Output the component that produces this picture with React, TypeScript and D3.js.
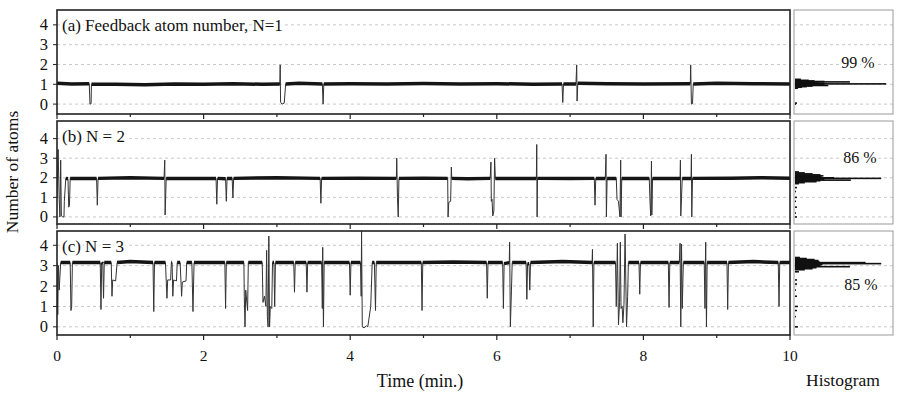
import React from "react";
import * as d3 from "d3";

// time traces, [minutes, atoms]
const traceA: [number, number][] = [
  [0, 1.05], [0.2, 1.02], [0.44, 1.03], [0.45, 0.0], [0.465, 0.02], [0.47, 1.0], [0.8, 1.0], [1.2, 0.98],
  [1.6, 1.02], [2.0, 1.0], [2.4, 1.03], [2.8, 1.0], [3.04, 1.02], [3.045, 1.98], [3.05, 0.1], [3.07, 0.0],
  [3.1, 0.05], [3.12, 1.02], [3.3, 1.05], [3.62, 1.02], [3.63, 0.0], [3.64, 1.02], [4.0, 1.03], [4.5, 1.02],
  [5.0, 1.04], [5.5, 1.02], [6.0, 1.03], [6.5, 1.0], [6.89, 1.02], [6.9, 0.08], [6.91, 1.02], [7.08, 1.02],
  [7.09, 1.98], [7.095, 0.15], [7.105, 1.05], [7.5, 1.03], [8.0, 1.02], [8.64, 1.03], [8.645, 1.98],
  [8.655, 0.0], [8.67, 0.02], [8.68, 1.02], [9.0, 1.05], [9.5, 1.03], [10, 1.02],
];

const traceB: [number, number][] = [
  [0, 1.0], [0.015, 3.45], [0.03, 0.9], [0.04, 0.0], [0.05, 2.9], [0.06, 0.05], [0.08, 0.0], [0.095, 0.0],
  [0.1, 0.8], [0.12, 1.97], [0.15, 1.95], [0.16, 0.5], [0.17, 0.6], [0.18, 1.97], [0.54, 1.97], [0.55, 0.6],
  [0.56, 1.97], [1.0, 2.0], [1.46, 1.97], [1.47, 2.9], [1.475, 0.1], [1.49, 1.97], [2.17, 1.97], [2.18, 0.65],
  [2.19, 1.97], [2.3, 1.95], [2.31, 0.8], [2.32, 1.97], [2.39, 1.97], [2.4, 0.97], [2.41, 1.97], [3.0, 2.0],
  [3.59, 1.97], [3.6, 0.7], [3.61, 1.97], [4.1, 1.98], [4.63, 1.97], [4.635, 3.0], [4.645, 1.0],
  [4.655, 0.0], [4.665, 1.97], [5.0, 1.98], [5.33, 1.97], [5.335, 0.0], [5.345, 0.75], [5.37, 0.8],
  [5.38, 2.55], [5.385, 1.97], [5.6, 1.95], [5.91, 1.97], [5.92, 2.8], [5.925, 0.8], [5.935, 0.9],
  [5.945, 0.05], [5.96, 0.3], [5.97, 3.0], [5.98, 1.97], [6.2, 1.97], [6.54, 1.97], [6.545, 3.7],
  [6.55, 0.0], [6.555, 1.97], [7.0, 1.96], [7.33, 1.97], [7.34, 0.6], [7.35, 1.97], [7.48, 1.97],
  [7.49, 3.2], [7.495, 0.0], [7.505, 1.97], [7.63, 1.97], [7.64, 0.9], [7.66, 0.8], [7.68, 0.0],
  [7.69, 2.9], [7.695, 0.0], [7.705, 1.97], [8.08, 1.97], [8.09, 0.8], [8.1, 0.05], [8.11, 2.85],
  [8.115, 0.1], [8.125, 1.97], [8.5, 1.97], [8.505, 2.9], [8.51, 0.05], [8.52, 1.0], [8.53, 1.97],
  [8.65, 1.97], [8.655, 3.2], [8.66, 0.0], [8.67, 1.97], [9.2, 1.98], [9.6, 2.0], [10, 1.98],
];

const traceC: [number, number][] = [
  [0, 3.15], [0.01, 0.6], [0.02, 3.0], [0.03, 1.8], [0.05, 3.15], [0.18, 3.15], [0.19, 0.8], [0.2, 1.0],
  [0.21, 3.15], [0.59, 3.15], [0.6, 0.85], [0.61, 3.15], [0.625, 3.1], [0.635, 1.4], [0.645, 3.15],
  [0.74, 3.15], [0.75, 1.5], [0.76, 2.3], [0.8, 2.25], [0.82, 3.15], [1.0, 3.2], [1.31, 3.15], [1.32, 0.75],
  [1.33, 3.15], [1.48, 3.15], [1.5, 1.4], [1.51, 2.3], [1.55, 2.3], [1.56, 3.15], [1.57, 3.15], [1.58, 1.5],
  [1.59, 2.3], [1.63, 2.25], [1.64, 3.15], [1.68, 3.15], [1.7, 1.5], [1.71, 2.2], [1.76, 2.25], [1.77, 3.15],
  [1.84, 3.15], [1.855, 0.75], [1.87, 3.15], [2.29, 3.15], [2.3, 0.9], [2.31, 3.15], [2.55, 3.15],
  [2.555, 1.5], [2.565, 0.0], [2.575, 1.8], [2.6, 0.8], [2.61, 3.15], [2.8, 3.15], [2.81, 1.2], [2.83, 1.5],
  [2.85, 1.0], [2.86, 3.75], [2.87, 0.5], [2.88, 0.0], [2.89, 4.45], [2.9, 0.0], [2.91, 1.0], [2.93, 0.9],
  [2.94, 3.15], [2.96, 3.15], [2.97, 1.0], [2.98, 3.15], [3.23, 3.15], [3.24, 1.7], [3.25, 3.15],
  [3.4, 3.15], [3.41, 1.7], [3.42, 3.15], [3.61, 3.15], [3.62, 0.9], [3.625, 3.9], [3.635, 0.0],
  [3.645, 3.15], [3.99, 3.15], [4.0, 1.55], [4.01, 3.15], [4.14, 3.15], [4.15, 1.5], [4.155, 4.7],
  [4.165, 0.0], [4.19, -0.05], [4.22, 0.05], [4.24, 0.0], [4.28, 1.0], [4.3, 3.15], [4.33, 3.15],
  [4.345, 0.8], [4.355, 3.15], [4.97, 3.15], [4.98, 0.8], [4.99, 3.15], [5.4, 3.18], [5.86, 3.15],
  [5.87, 1.4], [5.88, 3.15], [6.08, 3.15], [6.09, 0.9], [6.1, 3.1], [6.17, 3.15], [6.175, 4.15],
  [6.185, 0.0], [6.2, 1.8], [6.21, 3.15], [6.4, 3.15], [6.41, 1.35], [6.42, 3.1], [6.44, 3.1], [6.45, 1.8],
  [6.46, 3.15], [6.9, 3.2], [7.3, 3.15], [7.305, 3.8], [7.315, 0.0], [7.325, 3.15], [7.62, 3.15],
  [7.63, 1.0], [7.645, 4.1], [7.66, 0.1], [7.675, 1.2], [7.685, 4.15], [7.695, 0.9], [7.71, 1.0],
  [7.72, 0.2], [7.735, 1.1], [7.75, 4.55], [7.77, 0.0], [7.785, 1.5], [7.795, 3.15], [7.94, 3.15],
  [7.95, 1.6], [7.96, 3.15], [8.34, 3.15], [8.35, 0.95], [8.36, 3.15], [8.49, 3.15], [8.5, 4.1],
  [8.51, 0.0], [8.52, 4.05], [8.53, 0.9], [8.545, 3.15], [8.83, 3.15], [8.84, 0.9], [8.845, 3.0],
  [8.85, 4.15], [8.86, 0.0], [8.87, 3.15], [9.14, 3.15], [9.15, 0.85], [9.16, 3.15], [9.5, 3.2],
  [9.84, 3.15], [9.85, 1.0], [9.86, 3.15], [10, 3.15],
];

// histograms, [atoms, counts]
const histA: [number, number][] = [
  [1.25, 6], [1.2, 14], [1.17, 20], [1.14, 30], [1.12, 56], [1.1, 22], [1.07, 24], [1.05, 30], [1.02, 93],
  [1.0, 30], [0.97, 26], [0.94, 34], [0.91, 18], [0.88, 12], [0.85, 7], [0.8, 3], [0.05, 2], [0.0, 1],
];
const histB: [number, number][] = [
  [2.3, 4], [2.25, 10], [2.2, 18], [2.15, 26], [2.1, 29], [2.05, 27], [2.0, 40], [1.97, 88], [1.93, 30],
  [1.88, 57], [1.85, 26], [1.8, 22], [1.75, 10], [1.7, 4], [1.5, 2], [1.3, 1], [1.0, 2], [0.8, 1],
  [0.5, 2], [0.2, 1], [0.0, 2],
];
const histC: [number, number][] = [
  [3.4, 5], [3.35, 12], [3.3, 20], [3.25, 24], [3.2, 25], [3.15, 72], [3.1, 88], [3.05, 28], [3.0, 26],
  [2.95, 56], [2.9, 22], [2.85, 18], [2.8, 10], [2.7, 4], [2.3, 2], [2.1, 2], [1.8, 1], [1.5, 2],
  [1.0, 3], [0.8, 2], [0.5, 1], [0.0, 3],
];

const titles = ["(a) Feedback atom number, N=1", "(b) N = 2", "(c) N = 3"];
const percents = ["99 %", "86 %", "85 %"];
const baseLevels = [1.02, 1.97, 3.15];
const yTicks = [0, 1, 2, 3, 4];
const xTicks = d3.range(0, 11);

const FONT = "'Liberation Serif', 'Times New Roman', serif";

// layout of the three rows
const rows = [
  { top: 10, bottom: 114, dom: [-0.5, 4.75] },
  { top: 121, bottom: 224, dom: [-0.36, 4.9] },
  { top: 231, bottom: 335, dom: [-0.4, 4.7] },
];
const pctPos = [
  [858, 68],
  [860, 163],
  [861, 290],
];

const x = d3.scaleLinear().domain([0, 10]).range([57, 790]);
const hx = d3.scaleLinear().domain([0, 100]).range([795, 893]);

const traces = [traceA, traceB, traceC];
const hists = [histA, histB, histC];

const App = () => {
  return (
    <svg width={900} height={394} style={{ display: "block", position: "absolute", left: 0, top: 0 }} fontFamily={FONT}>
      <rect width={900} height={394} fill="#fff" />
      <defs>
        {rows.map((r, i) => (
          <clipPath id={"clip" + i} key={i}>
            <rect x={57} y={r.top} width={733} height={r.bottom - r.top} />
          </clipPath>
        ))}
      </defs>
      {rows.map((r, i) => {
        const y = d3.scaleLinear().domain(r.dom).range([r.bottom, r.top]);
        const base = baseLevels[i];
        const line = d3
          .line<[number, number]>()
          .x((d) => x(d[0]))
          .y((d) => y(d[1]));
        // the noisy plateau is drawn as a thicker band
        const bandLine = d3
          .line<[number, number]>()
          .defined((d) => Math.abs(d[1] - base) < 0.2)
          .x((d) => x(d[0]))
          .y((d) => y(d[1]));
        return (
          <g key={i}>
            {yTicks.map((t) => (
              <g key={t}>
                <line x1={57} x2={790} y1={y(t)} y2={y(t)} stroke="#c8c8c8" strokeDasharray="3,3" />
                <line x1={794} x2={893} y1={y(t)} y2={y(t)} stroke="#c8c8c8" strokeDasharray="3,3" />
              </g>
            ))}
            <g clipPath={`url(#clip${i})`}>
              <path d={line(traces[i]) || ""} fill="none" stroke="#333" strokeWidth={1} />
              <path d={bandLine(traces[i]) || ""} fill="none" stroke="#151515" strokeWidth={3.5} />
            </g>
            {hists[i].map((h, k) => (
              <rect key={k} x={hx(0)} y={y(h[0]) - 0.8} width={hx(h[1]) - hx(0)} height={1.6} fill="#111" />
            ))}
            <rect x={794} y={r.top} width={99} height={r.bottom - r.top} fill="none" stroke="#999" strokeWidth={1} />
            <rect x={57} y={r.top} width={733} height={r.bottom - r.top} fill="none" stroke="#222" strokeWidth={1.6} />
            {yTicks.map((t) => (
              <g key={t}>
                <line x1={53} x2={57} y1={y(t)} y2={y(t)} stroke="#222" />
                <text x={48} y={y(t) + 5.5} textAnchor="end" fontSize={16.5} fill="#111">
                  {t}
                </text>
              </g>
            ))}
            {xTicks.map((t) => (
              <line
                key={t}
                x1={x(t)}
                x2={x(t)}
                y1={r.bottom}
                y2={r.bottom + (t % 2 === 0 ? 5 : 3)}
                stroke="#222"
                strokeWidth={1.2}
              />
            ))}
            <text
              x={62}
              y={r.top + 21}
              fontSize={17}
              fill="#111"
              stroke="#fff"
              strokeWidth={5}
              paintOrder="stroke"
            >
              {titles[i]}
            </text>
            <text
              x={pctPos[i][0]}
              y={pctPos[i][1]}
              textAnchor="middle"
              fontSize={16}
              fill="#111"
              stroke="#fff"
              strokeWidth={5}
              paintOrder="stroke"
            >
              {percents[i]}
            </text>
          </g>
        );
      })}
      {xTicks
        .filter((t) => t % 2 === 0)
        .map((t) => (
          <text key={t} x={x(t)} y={361} textAnchor="middle" fontSize={15.5} fill="#111">
            {t}
          </text>
        ))}
      <text x={420} y={387} textAnchor="middle" fontSize={18} fill="#111">
        Time (min.)
      </text>
      <text x={843} y={386} textAnchor="middle" fontSize={17.5} fill="#111">
        Histogram
      </text>
      <text transform="translate(18,172) rotate(-90)" textAnchor="middle" fontSize={17.5} fill="#111">
        Number of atoms
      </text>
    </svg>
  );
};

export default App;
